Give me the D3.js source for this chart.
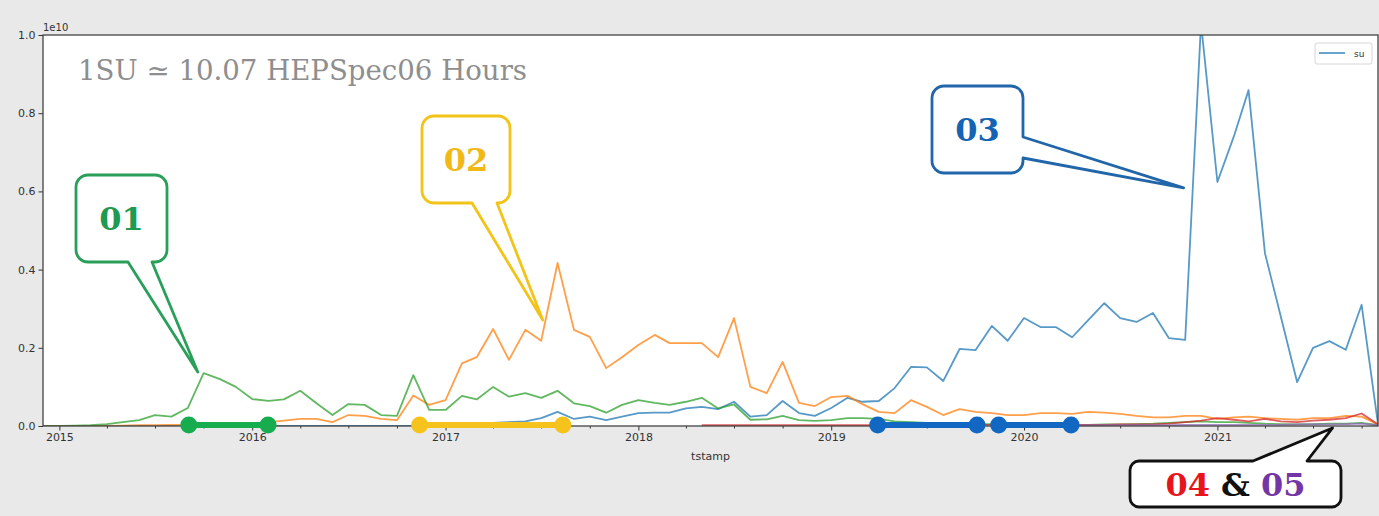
<!DOCTYPE html>
<html>
<head>
<meta charset="utf-8">
<script src="https://cdn.jsdelivr.net/npm/d3@7"></script>
<style>
  html, body { margin: 0; padding: 0; background: #e9e9e9; }
  svg { display: block; }
</style>
</head>
<body>
<svg id="chart" width="1379" height="516"></svg>
<script>
// ---- data -------------------------------------------------------------
// Monthly consumption per group, Dec 2014 .. Nov 2021, in units of 1e10 SU
const firstMonth = new Date(2014, 11, 1);
const lastMonth = new Date(2021, 10, 1);
const months = d3.timeMonth.range(firstMonth, d3.timeMonth.offset(lastMonth, 1));

const group03 = [
  0, 0, 0, 0, 0, 0, 0, 0, 0, 0, 0, 0, 0, 0, 0, 0, 0, 0, 0, 0, 0, 0, 0, 0, 0, 0,
  0.004, 0.006, 0.008, 0.010, 0.012, 0.020, 0.036, 0.018, 0.024, 0.015,
  0.024, 0.033, 0.034, 0.034, 0.045, 0.049, 0.043, 0.062, 0.024, 0.028,
  0.064, 0.033, 0.026, 0.046, 0.072, 0.062, 0.064, 0.097, 0.151, 0.150,
  0.115, 0.197, 0.194, 0.256, 0.218, 0.276, 0.253, 0.253, 0.227, 0.270,
  0.314, 0.276, 0.266, 0.289, 0.225, 0.220, 1.030, 0.624, 0.740, 0.859,
  0.442, 0.280, 0.112, 0.200, 0.217, 0.195, 0.310, 0.005
];
const group02 = [
  0, 0, 0, 0, 0, 0.001, 0.002, 0.002, 0.003, 0.003, 0.003, 0.003, 0.004,
  0.006, 0.010, 0.014, 0.018, 0.018, 0.010, 0.028, 0.026, 0.018, 0.015,
  0.078, 0.054, 0.066, 0.160, 0.176, 0.248, 0.169, 0.246, 0.218, 0.417,
  0.246, 0.228, 0.148, 0.176, 0.207, 0.233, 0.212, 0.212, 0.212, 0.176,
  0.276, 0.100, 0.084, 0.164, 0.059, 0.051, 0.074, 0.077, 0.056, 0.036,
  0.033, 0.066, 0.049, 0.028, 0.043, 0.036, 0.033, 0.028, 0.028, 0.033,
  0.033, 0.031, 0.036, 0.034, 0.031, 0.026, 0.022, 0.022, 0.026, 0.026,
  0.018, 0.022, 0.024, 0.020, 0.018, 0.016, 0.020, 0.020, 0.026, 0.024, 0.004
];
const group01 = [
  0, 0, 0.001, 0.002, 0.005, 0.010, 0.015, 0.028, 0.024, 0.046, 0.135,
  0.120, 0.100, 0.069, 0.064, 0.068, 0.090, 0.059, 0.028, 0.056, 0.054,
  0.028, 0.026, 0.130, 0.041, 0.041, 0.077, 0.068, 0.100, 0.075, 0.084,
  0.072, 0.090, 0.058, 0.051, 0.034, 0.054, 0.066, 0.059, 0.054, 0.062,
  0.072, 0.045, 0.055, 0.016, 0.017, 0.026, 0.015, 0.013, 0.015, 0.020,
  0.020, 0.018, 0.012, 0.010, 0.008, 0.008, 0.006, 0.005, 0.005, 0.004,
  0.004, 0.003, 0.003, 0.003, 0.003, 0.004, 0.004, 0.005, 0.006, 0.008,
  0.010, 0.012, 0.010, 0.010, 0.008, 0.006, 0.005, 0.004, 0.005, 0.006,
  0.006, 0.008, 0.002
];
const group04 = [
  null, null, null, null, null, null, null, null, null, null, null, null,
  null, null, null, null, null, null, null, null, null, null, null, null,
  null, null, null, null, null, null, null, null, null, null, null, null,
  null, null, null, null, null,
  0.002, 0.002, 0.002, 0.002, 0.002, 0.002, 0.002, 0.002, 0.002, 0.002,
  0.002, 0.002, 0.002, 0.002, 0.002, 0.002, 0.002, 0.003, 0.003, 0.003,
  0.003, 0.003, 0.003, 0.003, 0.003, 0.003, 0.004, 0.004, 0.004,
  0.006, 0.010, 0.014, 0.020, 0.016, 0.012, 0.018, 0.012, 0.010, 0.014,
  0.016, 0.020, 0.032, 0.004
];
const group05 = [
  null, null, null, null, null, null, null, null, null, null, null, null,
  null, null, null, null, null, null, null, null, null, null, null, null,
  null, null, null, null, null, null, null, null, null, null, null, null,
  null, null, null, null, null, null, null, null, null, null, null, null,
  null, null, null, null, null, null, null, null, null, null, null, null,
  0.001, 0.001, 0.001, 0.001, 0.002, 0.002, 0.002, 0.002, 0.002, 0.002,
  0.002, 0.003, 0.003, 0.003, 0.003, 0.003, 0.003, 0.003, 0.004, 0.004,
  0.004, 0.005, 0.006, 0.002
];

// plotting order follows the dataframe columns
const seriesNames = ["03", "02", "01", "04", "05"];
const seriesValues = [group03, group02, group01, group04, group05];
const seriesColors = ["#1f77b4", "#ff7f0e", "#2ca02c", "#d62728", "#9467bd"];

const yTicks = [0, 0.2, 0.4, 0.6, 0.8, 1.0];
const xTickLabels = ["2015", "2016", "2017", "2018", "2019", "2020", "2021"];

// activity periods drawn on the time axis
const periodGroups = ["01", "02", "03", "03"];
const periodStarts = ["2015-09-03", "2016-11-13", "2019-03-30", "2019-11-14"];
const periodEnds   = ["2016-01-31", "2017-08-11", "2019-10-04", "2020-03-30"];
const periodColors = ["#17ad4f", "#f6c21c", "#1167c1", "#1167c1"];

// ---- layout -----------------------------------------------------------
const svg = d3.select("#chart");
const W = 1379, H = 516;
const M = { left: 43, top: 35, right: 1, bottom: 90 };
const plotW = W - M.left - M.right, plotH = H - M.top - M.bottom;

svg.append("rect").attr("width", W).attr("height", H).attr("fill", "#e9e9e9");
svg.append("rect").attr("x", M.left).attr("y", M.top)
  .attr("width", plotW).attr("height", plotH).attr("fill", "#ffffff");

const parse = d3.timeParse("%Y-%m-%d");
const x = d3.scaleTime().domain([firstMonth, lastMonth]).range([M.left, M.left + plotW]);
const y = d3.scaleLinear().domain([0, 1.0]).range([M.top + plotH, M.top]);

svg.append("defs").append("clipPath").attr("id", "plotClip")
  .append("rect").attr("x", M.left).attr("y", M.top).attr("width", plotW).attr("height", plotH);

// ---- series lines -----------------------------------------------------
const line = d3.line()
  .defined(d => d[1] !== null)
  .x(d => x(d[0]))
  .y(d => y(d[1]));

const linesG = svg.append("g").attr("clip-path", "url(#plotClip)");
seriesValues.forEach((vals, k) => {
  linesG.append("path")
    .datum(months.map((m, i) => [m, vals[i]]))
    .attr("d", line)
    .attr("fill", "none")
    .attr("stroke", seriesColors[k])
    .attr("stroke-width", 1.8)
    .attr("stroke-opacity", 0.75)
    .attr("stroke-linejoin", "round");
});

// ---- axes -------------------------------------------------------------
const axisColor = "#333";
svg.append("g").attr("transform", `translate(${M.left},0)`)
  .call(d3.axisLeft(y).tickValues(yTicks).tickFormat(d3.format(".1f")).tickSize(4.5).tickPadding(3));
const years = xTickLabels.map(s => new Date(+s, 0, 1));
const quarters = d3.timeMonth.every(3).range(firstMonth, lastMonth)
  .filter(d => d.getMonth() !== 0);
svg.append("g").attr("transform", `translate(0,${M.top + plotH})`)
  .call(d3.axisBottom(x).tickValues(years).tickFormat((d, i) => xTickLabels[i]).tickSize(4.5).tickPadding(3));
svg.append("g").attr("transform", `translate(0,${M.top + plotH})`)
  .call(d3.axisBottom(x).tickValues(quarters).tickFormat("").tickSize(2.5))
  .call(g => g.select(".domain").remove());

svg.selectAll(".tick text").attr("font-family", "DejaVu Sans").attr("font-size", 11).attr("fill", axisColor);
svg.selectAll(".tick line").attr("stroke", axisColor);
svg.selectAll(".domain").remove();

// frame
svg.append("rect").attr("x", M.left).attr("y", M.top).attr("width", plotW).attr("height", plotH)
  .attr("fill", "none").attr("stroke", "#444").attr("stroke-width", 1.3);

svg.append("text").attr("x", M.left).attr("y", M.top - 4)
  .attr("font-family", "DejaVu Sans").attr("font-size", 10).attr("fill", axisColor).text("1e10");

svg.append("text").attr("x", M.left + plotW / 2).attr("y", M.top + plotH + 34)
  .attr("text-anchor", "middle").attr("font-family", "DejaVu Sans").attr("font-size", 11)
  .attr("fill", axisColor).text("tstamp");

// ---- legend -----------------------------------------------------------
const lg = svg.append("g").attr("transform", "translate(1315,43)");
lg.append("rect").attr("width", 57).attr("height", 21).attr("rx", 2)
  .attr("fill", "#fff").attr("stroke", "#d6d6d6");
lg.append("line").attr("x1", 4).attr("x2", 30).attr("y1", 10).attr("y2", 10)
  .attr("stroke", seriesColors[0]).attr("stroke-width", 1.8).attr("stroke-opacity", 0.75);
lg.append("text").attr("x", 39).attr("y", 14).attr("font-family", "DejaVu Sans")
  .attr("font-size", 9).attr("fill", "#333").text("su");

// ---- unit note --------------------------------------------------------
svg.append("text").attr("x", 78).attr("y", 80)
  .attr("font-family", "DejaVu Serif").attr("font-size", 27).attr("fill", "#8e8e8e")
  .attr("textLength", 449).attr("lengthAdjust", "spacingAndGlyphs")
  .text("1SU \u2243 10.07 HEPSpec06 Hours");

// ---- activity periods on the axis -------------------------------------
const baseY = y(0) - 1;
periodStarts.forEach((s, k) => {
  const x0 = x(parse(s)), x1 = x(parse(periodEnds[k]));
  svg.append("line").attr("x1", x0).attr("x2", x1).attr("y1", baseY).attr("y2", baseY)
    .attr("stroke", periodColors[k]).attr("stroke-width", 6);
  [x0, x1].forEach(cx => svg.append("circle").attr("cx", cx).attr("cy", baseY).attr("r", 8.5)
    .attr("fill", periodColors[k]));
});

// ---- callouts ---------------------------------------------------------
function calloutPath(b, side, a1, a2, tip, r) {
  const p = d3.path();
  p.moveTo(b.x0 + r, b.y0);
  if (side === "top") { p.lineTo(a1, b.y0); p.lineTo(tip[0], tip[1]); p.lineTo(a2, b.y0); }
  p.lineTo(b.x1 - r, b.y0);
  p.arcTo(b.x1, b.y0, b.x1, b.y0 + r, r);
  if (side === "right") { p.lineTo(b.x1, a1); p.lineTo(tip[0], tip[1]); p.lineTo(b.x1, a2); }
  p.lineTo(b.x1, b.y1 - r);
  p.arcTo(b.x1, b.y1, b.x1 - r, b.y1, r);
  if (side === "bottom") { p.lineTo(a2, b.y1); p.lineTo(tip[0], tip[1]); p.lineTo(a1, b.y1); }
  p.lineTo(b.x0 + r, b.y1);
  p.arcTo(b.x0, b.y1, b.x0, b.y1 - r, r);
  p.lineTo(b.x0, b.y0 + r);
  p.arcTo(b.x0, b.y0, b.x0 + r, b.y0, r);
  p.closePath();
  return p.toString();
}

const callouts = [
  { label: "01", color: "#2a9f5a", text: "#1f9a52", box: { x0: 76, y0: 175, x1: 167, y1: 262 },
    side: "bottom", a1: 128, a2: 152, at: ["2015-09-20", 0.138], r: 12 },
  { label: "02", color: "#f2c419", text: "#f1b918", box: { x0: 422, y0: 116, x1: 510, y1: 203 },
    side: "bottom", a1: 472, a2: 497, at: ["2017-07-04", 0.271], r: 12 },
  { label: "03", color: "#2166a9", text: "#1464b3", box: { x0: 932, y0: 86, x1: 1023, y1: 173 },
    side: "right", a1: 137, a2: 158, at: ["2020-10-29", 0.609], r: 12 }
];

callouts.forEach(c => {
  const tip = [x(parse(c.at[0])), y(c.at[1])];
  svg.append("path").attr("d", calloutPath(c.box, c.side, c.a1, c.a2, tip, c.r))
    .attr("fill", "#fff").attr("stroke", c.color).attr("stroke-width", 2.8)
    .attr("stroke-linejoin", "round");
  svg.append("text")
    .attr("x", (c.box.x0 + c.box.x1) / 2).attr("y", (c.box.y0 + c.box.y1) / 2)
    .attr("dy", "0.36em").attr("text-anchor", "middle")
    .attr("font-family", "DejaVu Serif").attr("font-weight", "bold").attr("font-size", 32)
    .attr("fill", c.text).text(c.label);
});

// groups 04 and 05, pointing at the tail of the time axis
{
  const box = { x0: 1130, y0: 461, x1: 1341, y1: 507 };
  const tip = [x(parse("2021-08-07")), y(-0.005)];
  svg.append("path").attr("d", calloutPath(box, "top", 1253, 1307, tip, 9))
    .attr("fill", "#fff").attr("stroke", "#111").attr("stroke-width", 2.8)
    .attr("stroke-linejoin", "round");
  const t = svg.append("text")
    .attr("x", (box.x0 + box.x1) / 2).attr("y", (box.y0 + box.y1) / 2)
    .attr("dy", "0.36em").attr("text-anchor", "middle")
    .attr("font-family", "DejaVu Serif").attr("font-weight", "bold").attr("font-size", 32);
  t.append("tspan").attr("fill", "#e8141c").text("04");
  t.append("tspan").attr("fill", "#111").text(" & ");
  t.append("tspan").attr("fill", "#7436a6").text("05");
}
</script>
</body>
</html>
